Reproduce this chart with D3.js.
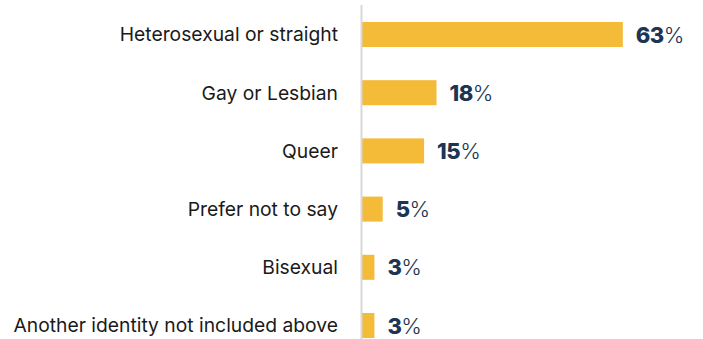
<!DOCTYPE html>
<html>
<head>
<meta charset="utf-8">
<script src="https://cdn.jsdelivr.net/npm/d3@7"></script>
<style>
body { margin: 0; background: #fff; }
svg { display: block; }
</style>
</head>
<body>
<div id="chart"></div>
<script>
var categories = ["Heterosexual or straight", "Gay or Lesbian", "Queer", "Prefer not to say", "Bisexual", "Another identity not included above"];
var values = [63, 18, 15, 5, 3, 3];

var width = 703, height = 339;
var axisX = 362;

var svg = d3.select("#chart").append("svg")
    .attr("width", width)
    .attr("height", height);

var y = d3.scaleBand()
    .domain(categories)
    .range([5.4, 354.6])
    .paddingInner(0.57)
    .paddingOuter(0.285);

var x = d3.scaleLinear()
    .domain([0, 100])
    .range([axisX, axisX + 414]);

var rows = categories.map(function(c, i) { return {cat: c, val: values[i]}; });

svg.selectAll(".bar")
    .data(rows)
    .enter().append("rect")
    .attr("class", "bar")
    .attr("x", x(0))
    .attr("y", function(d) { return y(d.cat); })
    .attr("width", function(d) { return x(d.val) - x(0); })
    .attr("height", y.bandwidth())
    .attr("fill", "#f3bb38");

// vertical baseline
svg.append("line")
    .attr("x1", axisX - 0.5).attr("x2", axisX - 0.5)
    .attr("y1", 5).attr("y2", height)
    .attr("stroke", "#d8d8d8")
    .attr("stroke-width", 2);

svg.selectAll(".cat")
    .data(rows)
    .enter().append("text")
    .attr("class", "cat")
    .attr("x", 338)
    .attr("y", function(d) { return y(d.cat) + y.bandwidth() / 2; })
    .attr("dy", "0.36em")
    .attr("text-anchor", "end")
    .style("font-family", "Inter, 'Liberation Sans', Arial, sans-serif")
    .style("font-size", "19.3px")
    .style("fill", "#1a1a1a")
    .text(function(d) { return d.cat; });

var lbl = svg.selectAll(".val")
    .data(rows)
    .enter().append("text")
    .attr("class", "val")
    .attr("x", function(d) { return x(d.val) + 13; })
    .attr("y", function(d) { return y(d.cat) + y.bandwidth() / 2; })
    .attr("dy", "0.37em")
    .style("font-family", "Inter, 'Liberation Sans', Arial, sans-serif")
    .style("font-size", "22px")
    .style("letter-spacing", "-0.5px")
    .style("fill", "#1d3553");

lbl.append("tspan")
    .style("font-weight", "800")
    .text(function(d) { return d.val; });
lbl.append("tspan")
    .style("font-weight", "300")
    .text("%");
</script>
</body>
</html>
